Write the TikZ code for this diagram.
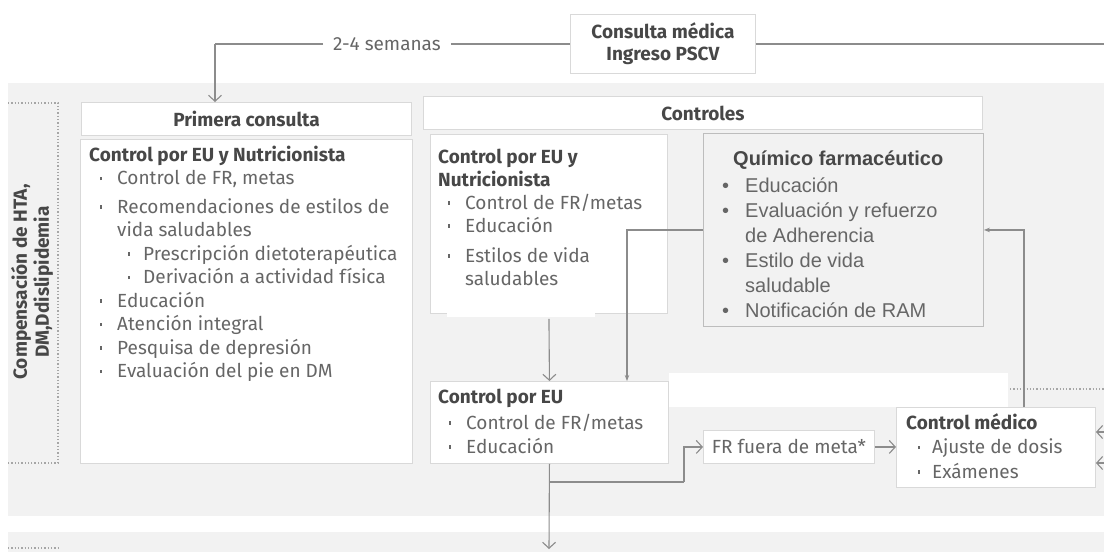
\documentclass[tikz,border=0pt]{standalone}
\usepackage{fontspec}
\setmainfont{Fira Sans}
\newfontfamily\arialf{Liberation Sans}
\usetikzlibrary{arrows.meta}
\definecolor{bandgray}{HTML}{F2F2F2}
\definecolor{boxc}{HTML}{D9D9D9}
\definecolor{qfc}{HTML}{BDBDBD}
\definecolor{titlec}{HTML}{474747}
\definecolor{bodyc}{HTML}{666666}
\definecolor{linec}{HTML}{8C8C8C}
\definecolor{dotc}{HTML}{A6A6A6}
\newcommand\hdr{\bfseries\fontsize{19}{22}\selectfont}
\newcommand\bodyf{\fontsize{19}{23.5}\selectfont}
\newcommand\fb{\makebox[17pt][l]{\rule[4.5pt]{2.2pt}{3.2pt}}}
\newcommand\fbs{\makebox[15pt][l]{\rule[4.5pt]{2.2pt}{3.2pt}}}
\newcommand\ab{\makebox[23pt][l]{\textbullet}}
\newcommand\ttl[1]{\leavevmode\textcolor{titlec}{\bfseries #1}}
\begin{document}
\begin{tikzpicture}[x=1pt,y=-1pt,
  wbox/.style={draw=boxc, fill=white, line width=0.9pt, inner sep=0pt, anchor=north west},
  qbox/.style={draw=qfc, fill=bandgray, line width=0.9pt, inner sep=0pt, anchor=north west},
  conn/.style={draw=linec, line width=1.1pt},
  vtip/.style={-{Straight Barb[length=6pt,width=13pt,line width=1.1pt]}},
  stip/.style={-{Stealth[length=6pt,width=4.5pt]}},
  txt/.style={inner sep=0pt, anchor=base west, text=bodyc},
  dotline/.style={draw=dotc, line width=1.3pt, dash pattern=on 1.3pt off 2pt},
]
\useasboundingbox (0,0) rectangle (1104,552);
\clip (0,0) rectangle (1104,552);
% background bands
\fill[bandgray] (8,83) rectangle (1104,516);
\fill[bandgray] (8,532) rectangle (1104,552);
% dotted brackets
\draw[dotline] (8,103) -- (58,103) -- (58,463) -- (8,463);
\draw[dotline] (8,548) -- (58,548);
\draw[dotline] (1010,389) -- (1104,389);
% side label
\node[rotate=90, align=center, font=\hdr, text=titlec, inner sep=0pt] (lab) at (32,282) {Compensación de HTA,\\DM,Ddislipidemia};
% top
\node[wbox, minimum width=185pt, minimum height=59pt, align=center, font=\hdr, text=titlec] (cm) at (570,14) {Consulta médica\\Ingreso PSCV};
\node[inner sep=0pt, font=\bodyf, text=bodyc] (sem) at (387,44) {2-4 semanas};
% headers
\node[wbox, minimum width=330pt, minimum height=33pt, font=\hdr, text=titlec] (pch) at (81,102) {Primera consulta};
\node[wbox, minimum width=559pt, minimum height=33pt, font=\hdr, text=titlec] (ctl) at (423,96) {Controles};
% boxes
\node[wbox, minimum width=332pt, minimum height=324pt] (pc) at (80,139) {};
\node[wbox, minimum width=237pt, minimum height=179pt] (b2) at (430,134) {};
\fill[white] (447,306) rectangle (595,317);
\node[qbox, minimum width=280pt, minimum height=193pt] (qf) at (703,133) {};
\fill[white] (669,373) rectangle (1008,407);
\node[wbox, minimum width=238pt, minimum height=82pt] (ce) at (430,381) {};
\node[wbox, minimum width=171pt, minimum height=33pt, font=\bodyf, text=bodyc] (fr) at (703,430) {FR fuera de meta*};
\node[wbox, minimum width=199pt, minimum height=80pt] (cmd) at (896,407) {};
% texts
\node[txt] (t1) at (89,161) {\parbox[t]{400pt}{\bodyf
\ttl{Control por EU y Nutricionista}\par
\hspace*{11pt}\fb Control de FR, metas\par\vspace{5pt}
\hspace*{11pt}\fb Recomendaciones de estilos de\par
\hspace*{28pt}vida saludables\par
\hspace*{39pt}\fbs Prescripción dietoterapéutica\par
\hspace*{39pt}\fbs Derivación a actividad física\par
\hspace*{11pt}\fb Educación\par
\hspace*{11pt}\fb Atención integral\par
\hspace*{11pt}\fb Pesquisa de depresión\par
\hspace*{11pt}\fb Evaluación del pie en DM}};
\node[txt] (t2) at (438,163) {\parbox[t]{400pt}{\fontsize{19}{23}\selectfont
\ttl{Control por EU y}\par
\ttl{Nutricionista}\par
\hspace*{10pt}\fb Control de FR/metas\par
\hspace*{10pt}\fb Educación\par\vspace{7pt}
\hspace*{10pt}\fb Estilos de vida\par
\hspace*{27pt}saludables}};
\node[txt] (t3) at (722,165) {\parbox[t]{400pt}{\arialf\fontsize{20}{25}\selectfont
\hspace*{11pt}\ttl{Químico farmacéutico}\par\vspace{2pt}
\ab Educación\par
\ab Evaluación y refuerzo\par
\hspace*{23pt}de Adherencia\par
\ab Estilo de vida\par
\hspace*{23pt}saludable\par
\ab Notificación de RAM}};
\node[txt] (t4) at (438,403) {\parbox[t]{400pt}{\fontsize{19}{24}\selectfont
\ttl{Control por EU}\par\vspace{2pt}
\hspace*{11pt}\fb Control de FR/metas\par
\hspace*{11pt}\fb Educación}};
\node[txt] (t5) at (906,429) {\parbox[t]{400pt}{\fontsize{19}{24.5}\selectfont
\ttl{Control médico}\par
\hspace*{12pt}\makebox[14pt][l]{\rule[4.5pt]{2.2pt}{3.2pt}}Ajuste de dosis\par
\hspace*{12pt}\makebox[14pt][l]{\rule[4.5pt]{2.2pt}{3.2pt}}Exámenes}};
% connectors
\coordinate (k1) at (215,44);
\coordinate (rend) at (1110,44);
\coordinate (k2) at (627,0);
\coordinate (br) at (549,482);
\coordinate (k3) at (684,482);
\coordinate (k4) at (1024,0);
\coordinate (bot) at (549,549);
\coordinate (r1) at (1112,432);
\coordinate (r2) at (1112,463);
\draw[conn] ([xshift=-10pt]sem.west) -- (k1);
\draw[conn, vtip] (k1) -- (k1 |- pch.north);
\draw[conn] ([xshift=10pt]sem.east) -- (sem.east -| cm.west);
\draw[conn] (cm.east) -- (cm.east -| rend);
\draw[conn, vtip] ([yshift=-5pt]b2.south) -- (ce.north);
\draw[conn, stip] (qf.west) -| (k2 |- ce.north);
\draw[conn, vtip] (ce.south) -- (bot);
\draw[conn] (br) -- (k3);
\draw[conn, vtip] (k3) |- (fr.west);
\draw[conn, vtip] (fr.east) -- (fr.east -| cmd.west);
\draw[conn, stip] (k4 |- cmd.north) |- (qf.east);
\draw[conn, vtip] (r1) -- (r1 -| cmd.east);
\draw[conn, vtip] (r2) -- (r2 -| cmd.east);
\end{tikzpicture}
\end{document}
